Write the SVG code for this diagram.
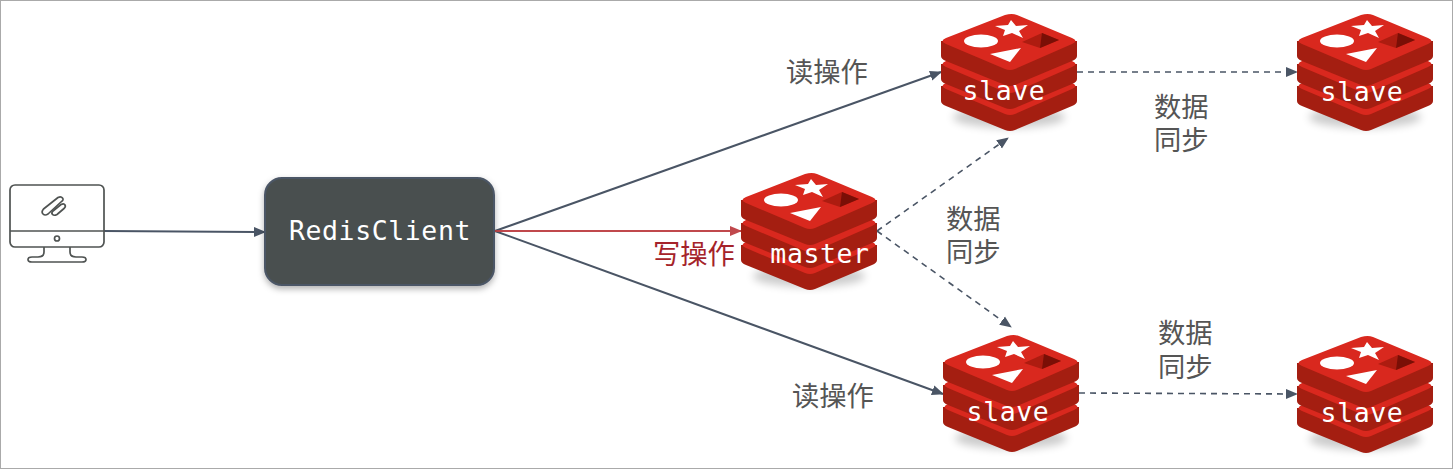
<svg xmlns="http://www.w3.org/2000/svg" width="1453" height="469" viewBox="0 0 1453 469">
<style>
.mono{font-family:"DejaVu Sans Mono","Liberation Mono",monospace;fill:#fff;font-size:26.500px;letter-spacing:.6px}
.cn{font-family:"Noto Sans CJK SC","Noto Sans",sans-serif;font-size:27.300px;fill:#555}
.conn{fill:none;stroke:#4a5565;stroke-width:2}
.dash{stroke-dasharray:6 5;stroke-width:1.6}
</style>
<defs>
<filter id="blur" x="-20%" y="-40%" width="140%" height="180%"><feGaussianBlur stdDeviation="4"/></filter>
<filter id="cardShadow" x="-10%" y="-10%" width="120%" height="125%"><feDropShadow dx="0" dy="3" stdDeviation="3" flood-color="#000" flood-opacity=".3"/></filter>
<marker id="arrow" markerUnits="userSpaceOnUse" markerWidth="12" markerHeight="12" refX="11" refY="6" orient="auto"><path d="M0 1L12 6L0 11Z" fill="#4a5565"/></marker>
<marker id="arrowRed" markerUnits="userSpaceOnUse" markerWidth="12" markerHeight="12" refX="11" refY="6" orient="auto"><path d="M0 1L12 6L0 11Z" fill="#c0484c"/></marker>
<g id="layer">
<path d="M0 28V43Q0 46 5 48L64 72Q69 74 74 72L131 48Q136 46 136 43V28Z" fill="#a41e11"/>
<path d="M5 25L64 2Q71 0 76 2L131 25Q138 28 131 31L74 56Q69 58 64 56L5 31Q-2 28 5 25Z" fill="#d9281e"/>
</g>
<g id="redis">
<ellipse cx="68" cy="104" rx="56" ry="11" fill="#000" opacity=".2" filter="url(#blur)"/>
<use href="#layer" y="45"/>
<use href="#layer" y="23"/>
<use href="#layer"/>
<path d="M70 7L75 13L87 12L78 18L82 25L71 20L62 23L64 17L54 13L67 12Z" fill="#fff"/>
<ellipse cx="40" cy="28" rx="17" ry="6.500" fill="#fff"/>
<path d="M49 41L80 35L69 49Z" fill="#fff"/>
<path d="M81 29L101 20L118 27L99 35Z" fill="#ad1c10"/>
<path d="M101 20L118 27L99 35Z" fill="#7a0f06"/>
</g>
</defs>
<rect x=".5" y=".5" width="1452" height="468" fill="#fff" stroke="#aaa"/>
<g id="connectors">
<path class="conn" d="M104 231L265 232" marker-end="url(#arrow)"/>
<path class="conn" d="M495 231L941 72" marker-end="url(#arrow)"/>
<path class="conn" d="M495 231L943 394" marker-end="url(#arrow)"/>
<path d="M495 231H741" fill="none" stroke="#c0484c" stroke-width="1.800" marker-end="url(#arrowRed)"/>
<path class="conn dash" d="M877 231L1008 138" marker-end="url(#arrow)"/>
<path class="conn dash" d="M877 231L1011 327" marker-end="url(#arrow)"/>
<path class="conn dash" d="M1077 72H1297" marker-end="url(#arrow)"/>
<path class="conn dash" d="M1079 393L1297 394" marker-end="url(#arrow)"/>
</g>
<g id="client">
<g fill="none" stroke="#4f5352" stroke-width="1.700" stroke-linejoin="round">
<rect x="10" y="185" width="94" height="62" rx="5"/>
<path d="M10 231H104"/>
<circle cx="57" cy="238.500" r="2.500"/>
<path d="M44 247V252Q44 257 38 257H32Q28 257 28 259.500T32 262H82Q86 262 86 259.500T82 257H76Q70 257 70 252V247"/>
<path d="M43.500 209L58 197.500Q61 196 62.500 198T61.500 201.500L48 214Q45 216 43 214T43.500 209Z"/>
<path d="M53 211L61 204.500Q64 203 65 205T64 208.500L57 214.500Q54 216 52.500 214.500T53 211Z"/>
</g>
</g>
<g id="redisclient">
<rect x="265" y="178" width="229" height="107" rx="17" fill="#495050" stroke="#4c5666" stroke-width="2" filter="url(#cardShadow)"/>
<text class="mono" x="380" y="240" text-anchor="middle">RedisClient</text>
</g>
<g id="master"><use href="#redis" x="741" y="172"/><text class="mono" x="820" y="263" text-anchor="middle">master</text></g>
<g id="slave1"><use href="#redis" x="941" y="13"/><text class="mono" x="1004" y="100" text-anchor="middle">slave</text></g>
<g id="slave2"><use href="#redis" x="1297" y="13"/><text class="mono" x="1362" y="101" text-anchor="middle">slave</text></g>
<g id="slave3"><use href="#redis" x="943" y="334"/><text class="mono" x="1008" y="421" text-anchor="middle">slave</text></g>
<g id="slave4"><use href="#redis" x="1297" y="335"/><text class="mono" x="1362" y="422" text-anchor="middle">slave</text></g>
<g id="labels">
<text class="cn" x="786" y="82">读操作</text>
<text class="cn" x="792" y="406">读操作</text>
<text class="cn" x="653" y="264" style="fill:#a5232a">写操作</text>
<text class="cn"><tspan x="1154" y="117">数据</tspan><tspan x="1154" y="150">同步</tspan></text>
<text class="cn"><tspan x="946" y="229">数据</tspan><tspan x="946" y="262">同步</tspan></text>
<text class="cn"><tspan x="1158" y="343">数据</tspan><tspan x="1158" y="377">同步</tspan></text>
</g>
</svg>
